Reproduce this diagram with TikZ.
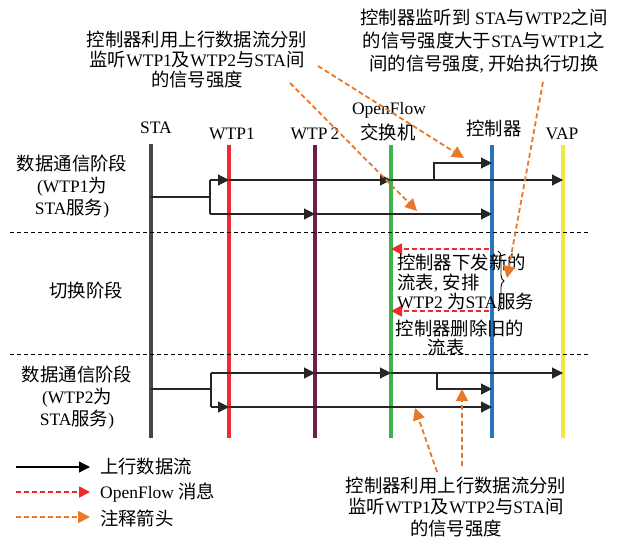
\documentclass[tikz,border=0pt]{standalone}
\usepackage{fontspec}
\setmainfont{Liberation Serif}
\newfontfamily\zhf[Scale=1.05]{Noto Sans CJK SC}
\newcommand\zh[1]{{\zhf #1}}
\usetikzlibrary{arrows.meta,decorations.pathreplacing}
\definecolor{cSTA}{HTML}{474747}
\definecolor{cWA}{HTML}{F02A30}
\definecolor{cWB}{HTML}{6D1E4F}
\definecolor{cSW}{HTML}{3BB44A}
\definecolor{cCTL}{HTML}{2A74BA}
\definecolor{cVAP}{HTML}{EEE842}
\definecolor{ofred}{HTML}{EE2A2A}
\definecolor{noteor}{HTML}{E8782A}
\begin{document}
\begin{tikzpicture}[x=1pt,y=-1pt,
  every node/.style={font=\fontsize{17.5}{20}\selectfont, inner sep=0pt},
  life/.style={line width=3.5pt},
  plain/.style={line width=1.1pt, draw=black!85},
  flow/.style={line width=1.1pt, draw=black!85, -{Triangle[length=11pt,width=11pt]}},
  ofmsg/.style={draw=ofred, line width=1.8pt, dash pattern=on 5pt off 3pt, -{Triangle[length=11pt,width=11pt,fill=ofred]}},
  note/.style={draw=noteor, line width=1.8pt, dash pattern=on 5pt off 3pt, -{Triangle[length=12pt,width=12pt,fill=noteor]}},
  phase/.style={line width=0.9pt, dash pattern=on 4pt off 3pt}]
\useasboundingbox (0,0) rectangle (617,538);

% lifelines
\coordinate (staT) at (151,144); \coordinate (staB) at (151,438);
\coordinate (waT) at (229,145);  \coordinate (waB) at (229,438);
\coordinate (wbT) at (315,145);  \coordinate (wbB) at (315,438);
\coordinate (swT) at (391,145);  \coordinate (swB) at (391,438);
\coordinate (ctlT) at (492,145); \coordinate (ctlB) at (492,438);
\coordinate (vapT) at (563,145); \coordinate (vapB) at (563,438);
\draw[life,cSTA] (staT) -- (staB);
\draw[life,cWA] (waT) -- (waB);
\draw[life,cWB] (wbT) -- (wbB);
\draw[life,cSW] (swT) -- (swB);
\draw[life,cCTL] (ctlT) -- (ctlB);
\draw[life,cVAP] (vapT) -- (vapB);

% header labels
\node (lSTA) at (156,128) {STA};
\node (lWA) at (232,134) {WTP1};
\node (lWB) at (315,134) {WTP\,2};
\node (lOF) at (389,110) {OpenFlow};
\node (lSW) at (388,132) {\zh{交换机}};
\node (lCTL) at (494,129) {\zh{控制器}};
\node (lVAP) at (562,134) {VAP};

% phase separators
\coordinate (d1a) at (10,232); \coordinate (d1b) at (588,232);
\coordinate (d2a) at (10,354); \coordinate (d2b) at (588,354);
\draw[phase] (d1a) -- (d1b);
\draw[phase] (d2a) -- (d2b);

% phase labels
\node[align=center, font=\fontsize{17.5}{22}\selectfont] (ph1) at (72,187) {\zh{数据通信阶段}\\(WTP1\zh{为}\\STA\zh{服务})};
\node (ph2) at (86,290) {\zh{切换阶段}};
\node[align=center, font=\fontsize{17.5}{22}\selectfont] (ph3) at (77,398) {\zh{数据通信阶段}\\(WTP2\zh{为}\\STA\zh{服务})};

% phase 1 flows
\coordinate (p1a) at (151,197); \coordinate (p1b) at (210,197);
\coordinate (p1u) at (210,180); \coordinate (p1d) at (210,214);
\coordinate (p1wa) at (229,180); \coordinate (p1sw) at (391,180);
\coordinate (p1vap) at (563,180);
\coordinate (p1k) at (434,180); \coordinate (p1kt) at (434,163);
\coordinate (p1ctlu) at (492,163);
\coordinate (p1wb) at (315,214); \coordinate (p1ctl) at (492,214);
\draw[plain] (p1a) -- (p1b);
\draw[plain] (p1u) -- (p1d);
\draw[flow] (p1u) -- (p1wa);
\draw[flow] (p1wa) -- (p1sw);
\draw[flow] (p1sw) -- (p1vap);
\draw[flow] (p1k) -- (p1kt) -- (p1ctlu);
\draw[flow] (p1d) -- (p1wb);
\draw[flow] (p1wb) -- (p1ctl);

% phase 3 flows
\coordinate (p3a) at (151,389); \coordinate (p3b) at (211,389);
\coordinate (p3u) at (211,373); \coordinate (p3d) at (211,407);
\coordinate (p3wb) at (315,373); \coordinate (p3sw) at (391,373);
\coordinate (p3vap) at (563,373);
\coordinate (p3k) at (437,373); \coordinate (p3kb) at (437,389);
\coordinate (p3ctlk) at (492,389);
\coordinate (p3wa) at (229,407); \coordinate (p3ctl) at (492,407);
\draw[plain] (p3a) -- (p3b);
\draw[plain] (p3u) -- (p3d);
\draw[flow] (p3u) -- (p3wb);
\draw[flow] (p3wb) -- (p3sw);
\draw[flow] (p3sw) -- (p3vap);
\draw[flow] (p3k) -- (p3kb) -- (p3ctlk);
\draw[flow] (p3d) -- (p3wa);
\draw[flow] (p3wa) -- (p3ctl);

% phase 2 OpenFlow messages
\coordinate (m1s) at (489,249); \coordinate (m1e) at (391,249);
\coordinate (m2s) at (489,311); \coordinate (m2e) at (391,311);
\draw[ofmsg] (m1s) -- (m1e);
\draw[ofmsg] (m2s) -- (m2e);
\node[anchor=west, align=left, font=\fontsize{17.5}{19.5}\selectfont] (t2) at (397,282) {\zh{控制器下发新的}\\\zh{流表}, \zh{安排}\\WTP2 \zh{为}STA\zh{服务}};
\node[align=center, font=\fontsize{17.5}{19}\selectfont] (t3) at (460,338) {\zh{控制器删除旧的}\\\hspace*{-1.6em}\zh{流表}};
\coordinate (brT) at (498,251); \coordinate (brB) at (498,311);
\draw[decorate, decoration={brace, amplitude=6pt}, line width=0.9pt] (brT) -- (brB);

% annotations
\node[align=center] (n1) at (197,60) {\zh{控制器利用上行数据流分别}\\\zh{监听}WTP1\zh{及}WTP2\zh{与}STA\zh{间}\\\zh{的信号强度}};
\node[align=center, font=\fontsize{17.5}{23}\selectfont] (n2) at (484,41) {\zh{控制器监听到} STA\zh{与}WTP2\zh{之间}\\\zh{的信号强度大于}STA\zh{与}WTP1\zh{之}\\\zh{间的信号强度}, \zh{开始执行切换}};
\node[align=center, font=\fontsize{17.5}{21.5}\selectfont] (n3) at (456,507) {\zh{控制器利用上行数据流分别}\\\zh{监听}WTP1\zh{及}WTP2\zh{与}STA\zh{间}\\\zh{的信号强度}};

\coordinate (n1e1) at (318,66); \coordinate (n1t1) at (464,158);
\coordinate (n1e2) at (290,83); \coordinate (n1t2) at (417,211);
\coordinate (n2e) at (543,82);  \coordinate (n2t) at (507,278);
\coordinate (n3e1) at (437,472); \coordinate (n3t1) at (415,408);
\coordinate (n3e2) at (462,466); \coordinate (n3t2) at (462,389);
\draw[note] (n1e1) -- (n1t1);
\draw[note] (n1e2) -- (n1t2);
\draw[note] (n2e) -- (n2t);
\draw[note] (n3e1) -- (n3t1);
\draw[note] (n3e2) -- (n3t2);

% legend
\coordinate (L1a) at (16,467); \coordinate (L1b) at (90,467);
\coordinate (L2a) at (16,492); \coordinate (L2b) at (90,492);
\coordinate (L3a) at (16,517); \coordinate (L3b) at (90,517);
\draw[flow, draw=black] (L1a) -- (L1b);
\draw[ofmsg] (L2a) -- (L2b);
\draw[note] (L3a) -- (L3b);
\node[anchor=west] (lg1) at (100,467) {\zh{上行数据流}};
\node[anchor=west] (lg2) at (100,493) {OpenFlow \zh{消息}};
\node[anchor=west] (lg3) at (100,518) {\zh{注释箭头}};
\end{tikzpicture}
\end{document}
